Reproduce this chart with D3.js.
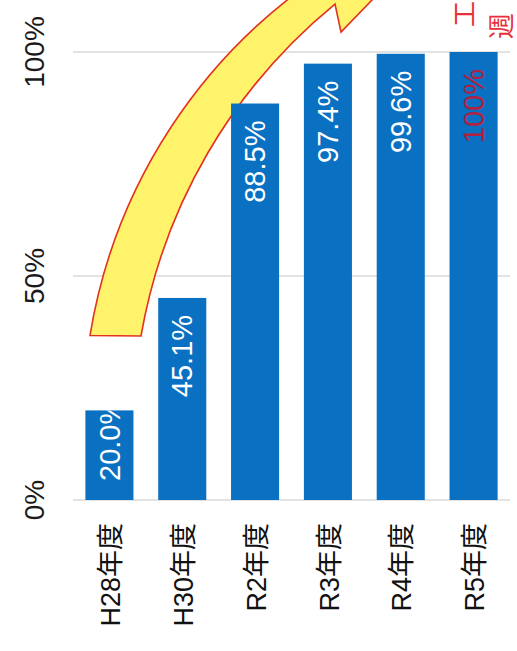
<!DOCTYPE html>
<html>
<head>
<meta charset="utf-8">
<script src="https://cdn.jsdelivr.net/npm/d3@7"></script>
<style>
  html, body { margin: 0; padding: 0; background: #fff; }
  svg { display: block; }
  text { font-family: "Liberation Sans", Arial, "Noto Sans CJK JP", sans-serif; }
</style>
</head>
<body>
<svg id="chart" width="517" height="651"></svg>
<script>
// ---- data ----
const categories = ["H28年度", "H30年度", "R2年度", "R3年度", "R4年度", "R5年度"];
const values = [20.0, 45.1, 88.5, 97.4, 99.6, 100];
const valueLabels = ["20.0%", "45.1%", "88.5%", "97.4%", "99.6%", "100%"];
const yTicks = [0, 50, 100];
const yTickLabels = ["0%", "50%", "100%"];
const noteLines = ["工", "週"];

// ---- layout ----
const W = 517, H = 651;
const plot = { left: 73, right: 510, top: 52, bottom: 500 };
const svg = d3.select("#chart");

const x = d3.scaleBand().domain(categories).range([plot.left, plot.right])
  .paddingInner(0.34).paddingOuter(0.17);
const y = d3.scaleLinear().domain([0, 100]).range([plot.bottom, plot.top]);

// gridlines
svg.append("g").selectAll("line").data(yTicks).join("line")
  .attr("x1", plot.left).attr("x2", plot.right)
  .attr("y1", d => y(d)).attr("y2", d => y(d))
  .attr("stroke", "#dadada").attr("stroke-width", 1.5);

// y tick labels (rotated)
svg.append("g").selectAll("text").data(yTicks).join("text")
  .attr("transform", d => `translate(34,${y(d)}) rotate(-90)`)
  .attr("text-anchor", "middle").attr("dy", "0.35em")
  .attr("font-size", 28).attr("fill", "#1a1a1a")
  .text((d, i) => yTickLabels[i]);

// curved arrow (decoration)
const Co = [621, 422], Ro = 538;       // outer edge circle
const Ci = [683.1, 430.1], Ri = 550.2; // inner edge circle
const deg = Math.PI / 180;
const aOt = -170.75 * deg, aOh = -123.0 * deg;
const aIt = -170.15 * deg, aIh = -129.25 * deg;
const p = d3.path();
p.moveTo(Co[0] + Ro * Math.cos(aOt), Co[1] + Ro * Math.sin(aOt));
p.arc(Co[0], Co[1], Ro, aOt, aOh, false);
p.lineTo(321.9, -57.2);
p.lineTo(398, -26.8);
p.lineTo(341, 32);
p.lineTo(Ci[0] + Ri * Math.cos(aIh), Ci[1] + Ri * Math.sin(aIh));
p.arc(Ci[0], Ci[1], Ri, aIh, aIt, true);
p.closePath();
svg.append("path").attr("d", p.toString())
  .attr("fill", "#fff36c").attr("stroke", "#e2331f").attr("stroke-width", 1.6)
  .attr("stroke-linejoin", "miter");

// red note text at top-right
svg.append("g").selectAll("text").data(noteLines).join("text")
  .attr("transform", (d, i) => `translate(${465 + i * 37},${i === 0 ? 27 : 39}) rotate(-90)`)
  .attr("dy", "0.36em").attr("font-size", 26).attr("fill", "#e8303a")
  .text(d => d);

// bars
const defs = svg.append("defs");
const bars = svg.append("g");
bars.selectAll("rect").data(values).join("rect")
  .attr("x", (d, i) => x(categories[i]))
  .attr("width", x.bandwidth())
  .attr("y", d => y(d))
  .attr("height", d => y(0) - y(d))
  .attr("fill", "#0a70c2");

values.forEach((v, i) => {
  defs.append("clipPath").attr("id", "clip" + i).append("rect")
    .attr("x", x(categories[i])).attr("width", x.bandwidth())
    .attr("y", y(v)).attr("height", y(0) - y(v));
});

// value labels inside bars
const labelColor = i => i === categories.length - 1 ? "#b3203f" : "#ffffff";
const lbl = svg.append("g").selectAll("g").data(values).join("g")
  .attr("clip-path", (d, i) => `url(#clip${i})`);
lbl.append("text")
  .attr("font-size", 29).attr("dy", "0.35em")
  .attr("fill", (d, i) => labelColor(i))
  .text((d, i) => valueLabels[i])
  .each(function(d, i) {
    const t = d3.select(this);
    const len = this.getComputedTextLength();
    const cx = x(categories[i]) + x.bandwidth() / 2;
    const room = y(0) - y(d) - 17 - 19;
    if (len <= room) {
      t.attr("text-anchor", "end").attr("transform", `translate(${cx},${y(d) + 17}) rotate(-90)`);
    } else {
      t.attr("text-anchor", "start").attr("transform", `translate(${cx},${y(0) - 19}) rotate(-90)`);
    }
  });

// category labels
svg.append("g").selectAll("text").data(categories).join("text")
  .attr("transform", d => `translate(${x(d) + x.bandwidth() / 2 + 1},523) rotate(-90)`)
  .attr("text-anchor", "end").attr("dy", "0.36em")
  .attr("font-size", 27).attr("fill", "#111")
  .text(d => d);
</script>
</body>
</html>
